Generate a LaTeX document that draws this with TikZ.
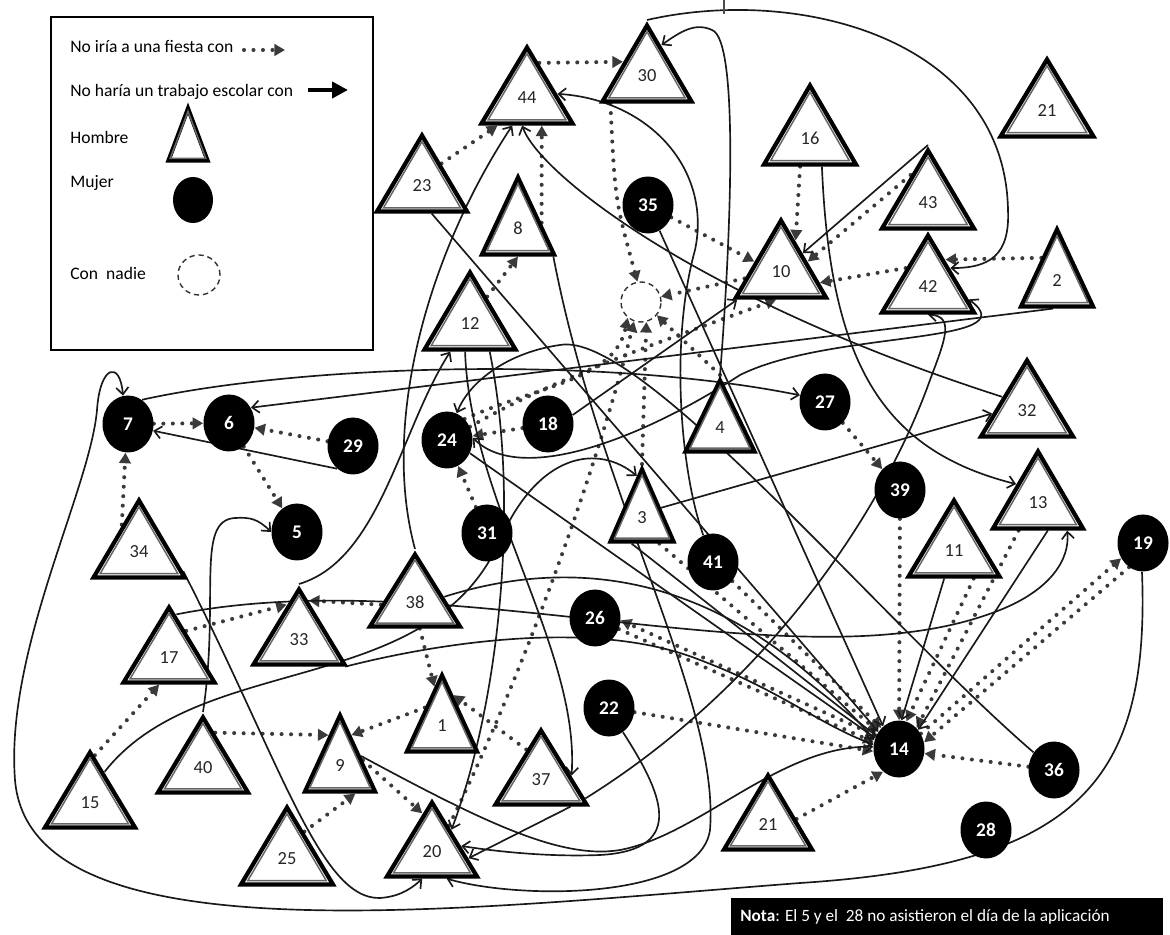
\documentclass[tikz,border=0pt]{standalone}
\usepackage{fontspec}
\setmainfont{Carlito}
\usetikzlibrary{shapes.geometric,arrows.meta,calc}
\pgfdeclarelayer{bg}
\pgfsetlayers{bg,main}
\newcommand\pxu{0.02cm}
\newcommand\RS[2]{($(#1.apex)!#2!(#1.right corner)$)}
\newcommand\LS[2]{($(#1.apex)!#2!(#1.left corner)$)}
\newcommand\BS[2]{($(#1.left corner)!#2!(#1.right corner)$)}
\definecolor{dotgray}{HTML}{3A3A3A}
\tikzset{
 tri/.style={isosceles triangle, isosceles triangle stretches, shape border rotate=90, draw=black, line width=2.4pt, fill=white, inner sep=0pt},
 tinner/.style={draw=black!60, line width=0.85pt},
 tlab/.style={font=\fontsize{10.5}{12}\selectfont, text=black!85, inner sep=0pt},
 muj/.style={ellipse, fill=black, text=white, minimum width=51*\pxu, minimum height=57*\pxu, inner sep=0pt, font=\fontsize{11}{12}\selectfont\bfseries},
 nadie/.style={ellipse, draw=black!80, dash pattern=on 3pt off 2.2pt, line width=0.8pt, minimum width=40*\pxu, minimum height=40*\pxu, inner sep=0pt},
 fi/.style={draw=dotgray, line width=2.3pt, line cap=round, dash pattern=on 0pt off 5.4pt, -{Triangle[length=6pt,width=6.5pt]}},
 tr/.style={draw=black!90, line width=0.95pt, -{Straight Barb[length=4pt,width=7pt]}},
 trb/.style={draw=black!90, line width=0.95pt, {Straight Barb[length=4pt,width=7pt]}-{Straight Barb[length=4pt,width=7pt]}},
 lg/.style={font=\fontsize{10}{12}\selectfont, inner sep=0pt, anchor=west},
}
\newcommand\trishape[5]{%
 \node[tri, minimum width={(#4-5)*\pxu}, minimum height={(#5-3)*\pxu}, anchor=apex] (#1) at (#2,#3-3) {};
 \coordinate (#1g) at ($($(#1.left corner)!0.5!(#1.right corner)$)!0.3333!(#1.apex)$);
 \draw[tinner] ($(#1.apex)!0.21!(#1g)$) -- ($(#1.left corner)!0.21!(#1g)$) -- ($(#1.right corner)!0.21!(#1g)$) -- cycle;}
\newcommand\tri[6]{\trishape{#1}{#2}{#3}{#4}{#5}\node[tlab] (#1l) at (#2,{#3+0.67*#5}) {#6};}
\begin{document}
\begin{tikzpicture}[x=0.02cm,y=-0.02cm]
\useasboundingbox (0,0) rectangle (1170,935);
\draw[line width=0.6pt, black!70] (724,0) -- (724,14);
% legend
\node[draw=black, line width=1.3pt, minimum width=322*\pxu, minimum height=333*\pxu, anchor=north west, inner sep=0pt] (legend) at (50,16) {};
\node[lg] (lgA) at (70,46) {No iría a una fiesta con};
\node[lg] (lgB) at (70,92) {No haría un trabajo escolar con};
\node[lg] (lgC) at (70,137) {Hombre};
\node[lg] (lgD) at (70,183) {Mujer};
\node[lg] (lgE) at (70,273) {Con~ nadie};
\coordinate (lgf1) at (244,50); \coordinate (lgf2) at (285,50);
\draw[fi] (lgf1) -- (lgf2);
\coordinate (lgt1) at (308,90); \coordinate (lgt2) at (348,90);
\draw[line width=2.8pt, -{Triangle[length=9pt,width=9pt]}] (lgt1) -- (lgt2);
\trishape{lgtri}{188}{106}{44}{55}
\node[muj, minimum width=40*\pxu, minimum height=46*\pxu] (lgmuj) at (193,200) {};
\node[nadie, minimum width=42*\pxu] (lgnad) at (199,275) {};
% men
\tri{t44}{527}{45}{96}{79}{44}
\tri{t30}{647}{23}{94}{79}{30}
\tri{t23}{422}{133}{95}{79}{23}
\tri{t8}{518}{175}{77}{80}{8}
\tri{t12}{470}{270}{96}{80}{12}
\tri{t16}{810}{83}{97}{82}{16}
\tri{tA21}{1047}{57}{98}{80}{21}
\tri{t43}{928}{148}{97}{81}{43}
\tri{t10}{781}{218}{95}{80}{10}
\tri{t42}{928}{233}{97}{80}{42}
\tri{t2}{1057}{227}{77}{80}{2}
\tri{t4}{720}{378}{74}{74}{4}
\tri{t32}{1027}{358}{97}{79}{32}
\tri{t13}{1038}{449}{95}{80}{13}
\tri{t11}{954}{498}{96}{79}{11}
\tri{t3}{642}{467}{68}{75}{3}
\tri{t38}{415}{552}{95}{75}{38}
\tri{t34}{139}{498}{96}{80}{34}
\tri{t33}{299}{587}{96}{78}{33}
\tri{t17}{169}{605}{96}{78}{17}
\tri{t15}{90}{750}{95}{78}{15}
\tri{t40}{203}{715}{95}{78}{40}
\tri{t9}{340}{713}{75}{79}{9}
\tri{t25}{287}{805}{97}{80}{25}
\tri{t1}{442}{673}{75}{79}{1}
\tri{t37}{541}{728}{96}{77}{37}
\tri{t20}{432}{800}{95}{77}{20}
\tri{tB21}{768}{773}{93}{77}{21}
% women
\node[muj] (c7) at (128,424) {7};
\node[muj] (c6) at (229,423) {6};
\node[muj] (c29) at (353,446) {29};
\node[muj] (c5) at (297,532) {5};
\node[muj] (c24) at (447,440) {24};
\node[muj] (c18) at (548,424) {18};
\node[muj] (c31) at (487,533) {31};
\node[muj] (c35) at (648,205) {35};
\node[muj] (c27) at (825,402) {27};
\node[muj] (c39) at (900,490) {39};
\node[muj] (c41) at (713,562) {41};
\node[muj] (c26) at (595,618) {26};
\node[muj] (c22) at (609,708) {22};
\node[muj] (c14) at (899,749) {14};
\node[muj] (c36) at (1054,770) {36};
\node[muj] (c28) at (986,830) {28};
\node[muj] (c19) at (1143,543) {19};
\node[nadie] (cn) at (641,302) {};
% note
\node[fill=black, anchor=north west, minimum width=432*\pxu, minimum height=40*\pxu, inner sep=0pt] (nota) at (731,898) {};
\node[font=\fontsize{9.8}{11}\selectfont, text=white, inner sep=0pt, anchor=west] (notatxt) at (740,917) {\textbf{Nota}: El 5 y el~ 28 no asistieron el día de la aplicación};
\begin{pgfonlayer}{bg}
% party (dotted)
\draw[fi] \RS{t44}{0.25} -- \LS{t30}{0.5};
\draw[fi] \RS{t23}{0.4} -- \BS{t44}{0.2};
\draw[fi] \RS{t8}{0.6} -- \BS{t44}{0.65};
\draw[fi] \RS{t12}{0.35} -- \BS{t8}{0.5};
\draw[fi] \BS{t30}{0.12} .. controls (615,200) .. (cn.100);
\draw[fi] (c35) -- \LS{t10}{0.55};
\draw[fi] \LS{t10}{0.75} -- (cn.15);
\draw[fi] (t3.apex) -- (cn.285);
\draw[fi] (t4.apex) -- (cn.320);
\draw[fi] \RS{t20}{0.35} .. controls (540,640) and (610,420) .. (cn.250);
\draw[fi] (c24.50) .. controls (540,385) and (615,380) .. (cn.230);
\draw[fi] (c24.30) .. controls (560,375) and (680,335) .. \BS{t10}{0.45};
\draw[fi] \LS{t37}{0.3} -- \RS{t1}{0.3};
\draw[fi] \LS{t1}{0.45} -- \RS{t9}{0.3};
\draw[fi] \BS{t38}{0.55} -- \LS{t1}{0.2};
\draw[fi] \LS{t38}{0.7} -- \RS{t33}{0.2};
\draw[fi] \RS{t17}{0.35} -- \LS{t33}{0.25};
\draw[fi] \RS{t15}{0.1} -- \BS{t17}{0.4};
\draw[fi] \RS{t40}{0.25} -- \LS{t9}{0.3};
\draw[fi] \RS{t25}{0.35} -- \BS{t9}{0.7};
\draw[fi] \RS{t9}{0.6} -- \LS{t20}{0.2};
\draw[fi] (c7) -- (c6);
\draw[fi] (c29) -- (c6);
\draw[fi] (c6) -- (c5);
\draw[fi] \LS{t34}{0.35} -- (c7.265);
\draw[fi] (c18) -- (c24);
\draw[fi] (c31) -- (c24);
\draw[fi] (c27) -- (c39);
\draw[fi] \BS{t16}{0.4} -- \RS{t10}{0.3};
\draw[fi] \LS{t43}{0.35} -- \RS{t10}{0.55};
\draw[fi] \LS{t42}{0.45} -- \RS{t10}{0.8};
\draw[fi] \LS{t2}{0.4} -- \RS{t42}{0.35};
\draw[fi] \BS{t13}{0.3} -- (c14.50);
\draw[fi] \BS{t11}{0.7} -- (c14.75);
\draw[fi] (c39) -- (c14);
\draw[fi] (c41) -- (c14.130);
\draw[fi] (c22) -- (c14.185);
\draw[fi] \RS{tB21}{0.6} -- (c14.235);
\draw[fi] (c36) -- (c14.-10);
\draw[fi] (c14.35) -- (c19.215);
\draw[fi] (c19.240) -- (c14.15);
\draw[fi] (c14.150) -- (c26.-5);
\draw[fi] (c26.-25) -- (c14.165);
\draw[fi] \BS{t3}{0.75} -- (c14.140);
% school work (solid)
\draw[tr] (t30.apex) .. controls (800,-15) and (1005,40) .. (1008,210) .. controls (1010,255) and (990,268) .. \RS{t42}{0.45};
\draw[tr] (t4.apex) .. controls (730,250) and (740,40) .. (712,30) .. controls (695,22) and (680,32) .. \RS{t30}{0.3};
\draw[tr] (c41.110) .. controls (680,470) and (670,340) .. (695,250) .. controls (712,170) and (650,100) .. \RS{t44}{0.62};
\draw[tr] \LS{t32}{0.5} .. controls (700,300) and (540,175) .. \BS{t44}{0.45};
\draw[tr] (t38.apex) .. controls (380,420) and (430,250) .. \BS{t44}{0.35};
\draw[tr] \BS{t23}{0.6} -- (c14.140);
\draw[tr] (c35) -- (c14.125);
\draw[tr] \BS{t3}{0.35} -- (c14.150);
\draw[tr] \BS{t11}{0.4} -- (c14.85);
\draw[tr] \BS{t13}{0.6} -- (c14.45);
\draw[tr] (c36) .. controls (880,620) and (640,330) .. (560,345) .. controls (510,352) and (470,380) .. (c24.70);
\draw[tr] (c29.235) -- (c7.-15);
\draw[tr] \BS{t2}{0.45} -- (c6.35);
\draw[tr] (c7.60) .. controls (300,365) and (600,355) .. (c27.165);
\draw[tr] (c19.268) .. controls (1150,780) and (1080,865) .. (800,883) .. controls (450,910) and (30,960) .. (15,780) .. controls (5,650) and (90,490) .. (97,410) .. controls (100,365) and (120,360) .. (c7.100);
\draw[tr] \BS{t16}{0.62} .. controls (830,360) and (880,450) .. \LS{t13}{0.45};
\draw[tr] \RS{t34}{0.9} .. controls (280,760) and (320,900) .. (380,898) .. controls (395,897) and (408,892) .. \BS{t20}{0.4};
\draw[tr] (t43.apex) -- \RS{t10}{0.45};
\draw[tr] (c18.20) -- \BS{t10}{0.05};
\draw[tr] \RS{t3}{0.55} -- \LS{t32}{0.7};
\draw[tr] (c24.-30) -- (c14.155);
\draw[trb] (c24.5) .. controls (520,485) and (640,440) .. (740,375) .. controls (830,330) and (1030,345) .. \RS{t42}{0.82};
\draw[tr] \RS{t37}{0.9} .. controls (760,690) and (880,520) .. (930,380) .. controls (945,340) and (955,316) .. \BS{t42}{0.5};
\draw[tr] \RS{t15}{0.3} .. controls (200,650) and (430,700) .. (500,540) .. controls (540,450) and (600,445) .. \LS{t3}{0.15};
\draw[tr] (t40.apex) .. controls (220,600) and (195,520) .. (235,518) .. controls (250,517) and (258,519) .. (c5.180);
\draw[tr] (c22.-60) .. controls (660,790) and (690,850) .. (600,855) .. controls (550,857) and (500,852) .. \RS{t20}{0.6};
\draw[tr] \BS{t37}{0.8} -- \RS{t20}{0.75};
\draw[tr] \RS{t9}{0.55} .. controls (480,820) and (560,860) .. (620,850) .. controls (700,835) and (780,745) .. (c14.175);
\draw[tr] \BS{t33}{0.97} .. controls (450,640) and (600,620) .. (700,660) .. controls (780,690) and (820,725) .. (c14.170);
\draw[tr] \BS{t12}{0.7} .. controls (520,500) and (500,700) .. \RS{t20}{0.4};
\draw[tr] \BS{t8}{0.95} .. controls (600,500) and (720,700) .. (710,830) .. controls (700,900) and (520,900) .. \BS{t20}{0.65};
\draw[tr] \BS{t12}{0.45} .. controls (470,500) and (580,650) .. \RS{t37}{0.62};
\draw[tr] (t33.apex) .. controls (380,560) and (400,430) .. \BS{t12}{0.3};
\draw[tr] \RS{t17}{0.15} .. controls (450,560) and (800,690) .. (1000,610) .. controls (1050,590) and (1070,560) .. \BS{t13}{0.8};
\draw[tr] \RS{t38}{0.6} .. controls (560,560) and (720,560) .. (c14.160);
\end{pgfonlayer}
\end{tikzpicture}
\end{document}
